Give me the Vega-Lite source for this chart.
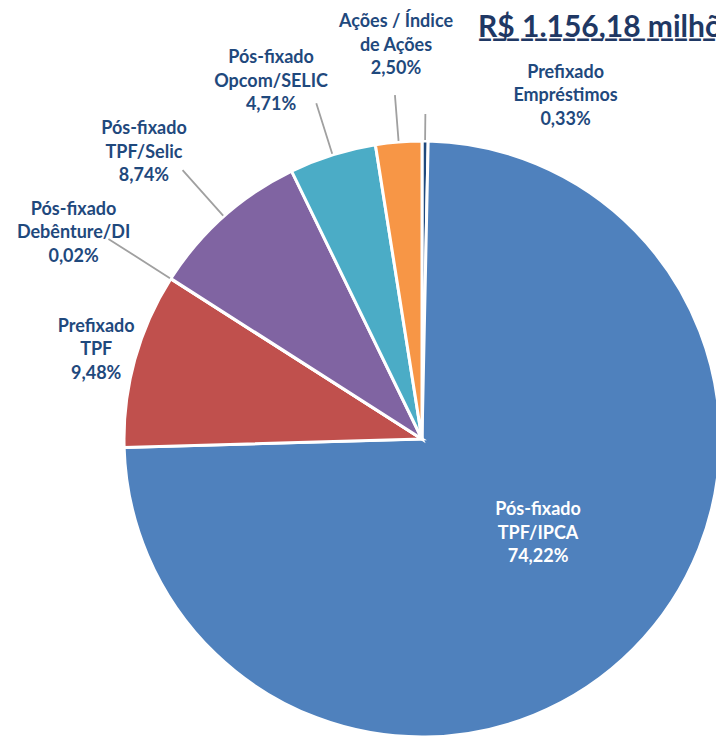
{
  "$schema": "https://vega.github.io/schema/vega-lite/v6.json",
  "width": 588,
  "height": 602,
  "autosize": {"type": "none"},
  "padding": {"left": 128, "top": 138, "right": 0, "bottom": 0},
  "background": "white",
  "config": {
    "view": {"stroke": null},
    "text": {"font": "Lato", "fontWeight": "bold", "fontSize": 18, "lineHeight": 23.5, "lineBreak": "\n", "color": "#1F497D", "align": "center", "baseline": "middle"}
  },
  "title": {
    "text": "R$ 1.156,18 milhões",
    "subtitle": "______________________",
    "anchor": "start",
    "frame": "group",
    "dx": 350,
    "offset": -31,
    "font": "Lato",
    "fontSize": 30,
    "fontWeight": "bold",
    "color": "#1F3864",
    "subtitleFont": "Lato",
    "subtitleFontSize": 30,
    "subtitleFontWeight": "bold",
    "subtitleColor": "#1F3864",
    "subtitlePadding": -31
  },
  "data": {
    "values": [
      {"ord": 1, "cat": "Prefixado Empréstimos", "value": 0.33, "label": "Prefixado\nEmpréstimos\n0,33%"},
      {"ord": 2, "cat": "Pós-fixado TPF/IPCA", "value": 74.22, "label": "Pós-fixado\nTPF/IPCA\n74,22%"},
      {"ord": 3, "cat": "Prefixado TPF", "value": 9.48, "label": "Prefixado\nTPF\n9,48%"},
      {"ord": 4, "cat": "Pós-fixado Debênture/DI", "value": 0.02, "label": "Pós-fixado\nDebênture/DI\n0,02%"},
      {"ord": 5, "cat": "Pós-fixado TPF/Selic", "value": 8.74, "label": "Pós-fixado\nTPF/Selic\n8,74%"},
      {"ord": 6, "cat": "Pós-fixado Opcom/SELIC", "value": 4.71, "label": "Pós-fixado\nOpcom/SELIC\n4,71%"},
      {"ord": 7, "cat": "Ações / Índice de Ações", "value": 2.50, "label": "Ações / Índice\nde Ações\n2,50%"}
    ]
  },
  "transform": [
    {"stack": "value", "groupby": [], "sort": [{"field": "ord", "order": "ascending"}], "as": ["v0", "v1"]},
    {"calculate": "(datum.v0 + datum.v1) / 2", "as": "mid"}
  ],
  "layer": [
    {
      "mark": {"type": "arc", "radius": 298, "stroke": "white", "strokeWidth": 3},
      "encoding": {
        "theta": {"field": "v0", "type": "quantitative", "scale": {"domain": [0, 100]}},
        "theta2": {"field": "v1"},
        "color": {
          "field": "cat",
          "type": "nominal",
          "legend": null,
          "scale": {
            "domain": ["Prefixado Empréstimos", "Pós-fixado TPF/IPCA", "Prefixado TPF", "Pós-fixado Debênture/DI", "Pós-fixado TPF/Selic", "Pós-fixado Opcom/SELIC", "Ações / Índice de Ações"],
            "range": ["#1F497D", "#4F81BD", "#C0504D", "#9BBB59", "#8064A2", "#4BACC6", "#F79646"]
          }
        }
      }
    },
    {
      "transform": [{"filter": "datum.ord == 1"}],
      "mark": {"type": "arc", "radius": 325, "radius2": 299, "stroke": "#A0A0A0", "strokeWidth": 1.8, "fillOpacity": 0},
      "encoding": {"theta": {"field": "mid", "type": "quantitative"}, "theta2": {"field": "mid"}}
    },
    {
      "transform": [{"filter": "datum.ord == 7"}],
      "mark": {"type": "arc", "radius": 345, "radius2": 299, "stroke": "#A0A0A0", "strokeWidth": 1.8, "fillOpacity": 0},
      "encoding": {"theta": {"field": "mid", "type": "quantitative"}, "theta2": {"field": "mid"}}
    },
    {
      "transform": [{"filter": "datum.ord == 6"}],
      "mark": {"type": "arc", "radius": 352, "radius2": 299, "stroke": "#A0A0A0", "strokeWidth": 1.8, "fillOpacity": 0},
      "encoding": {"theta": {"field": "mid", "type": "quantitative"}, "theta2": {"field": "mid"}}
    },
    {
      "transform": [{"filter": "datum.ord == 5"}],
      "mark": {"type": "arc", "radius": 360, "radius2": 299, "stroke": "#A0A0A0", "strokeWidth": 1.8, "fillOpacity": 0},
      "encoding": {"theta": {"field": "mid", "type": "quantitative"}, "theta2": {"field": "mid"}}
    },
    {
      "transform": [{"filter": "datum.ord == 4"}],
      "mark": {"type": "arc", "radius": 372, "radius2": 299, "stroke": "#A0A0A0", "strokeWidth": 1.8, "fillOpacity": 0},
      "encoding": {"theta": {"field": "mid", "type": "quantitative"}, "theta2": {"field": "mid"}}
    },
    {
      "transform": [{"filter": "datum.ord == 1"}],
      "mark": {"type": "text", "radius": 343, "dx": 140, "dy": -23.5},
      "encoding": {"theta": {"field": "mid", "type": "quantitative"}, "text": {"field": "label"}}
    },
    {
      "transform": [{"filter": "datum.ord == 2"}],
      "mark": {"type": "text", "radius": 148, "dx": 11, "dy": -33, "color": "white"},
      "encoding": {"theta": {"field": "mid", "type": "quantitative"}, "text": {"field": "label"}}
    },
    {
      "transform": [{"filter": "datum.ord == 3"}],
      "mark": {"type": "text", "radius": 338, "dy": -22},
      "encoding": {"theta": {"field": "mid", "type": "quantitative"}, "text": {"field": "label"}}
    },
    {
      "transform": [{"filter": "datum.ord == 4"}],
      "mark": {"type": "text", "radius": 405, "dx": -7, "dy": -11.5},
      "encoding": {"theta": {"field": "mid", "type": "quantitative"}, "text": {"field": "label"}}
    },
    {
      "transform": [{"filter": "datum.ord == 5"}],
      "mark": {"type": "text", "radius": 400, "dx": -12, "dy": -11},
      "encoding": {"theta": {"field": "mid", "type": "quantitative"}, "text": {"field": "label"}}
    },
    {
      "transform": [{"filter": "datum.ord == 6"}],
      "mark": {"type": "text", "radius": 376, "dx": -38, "dy": -22},
      "encoding": {"theta": {"field": "mid", "type": "quantitative"}, "text": {"field": "label"}}
    },
    {
      "transform": [{"filter": "datum.ord == 7"}],
      "mark": {"type": "text", "radius": 395, "dx": 5, "dy": -23},
      "encoding": {"theta": {"field": "mid", "type": "quantitative"}, "text": {"field": "label"}}
    }
  ]
}
